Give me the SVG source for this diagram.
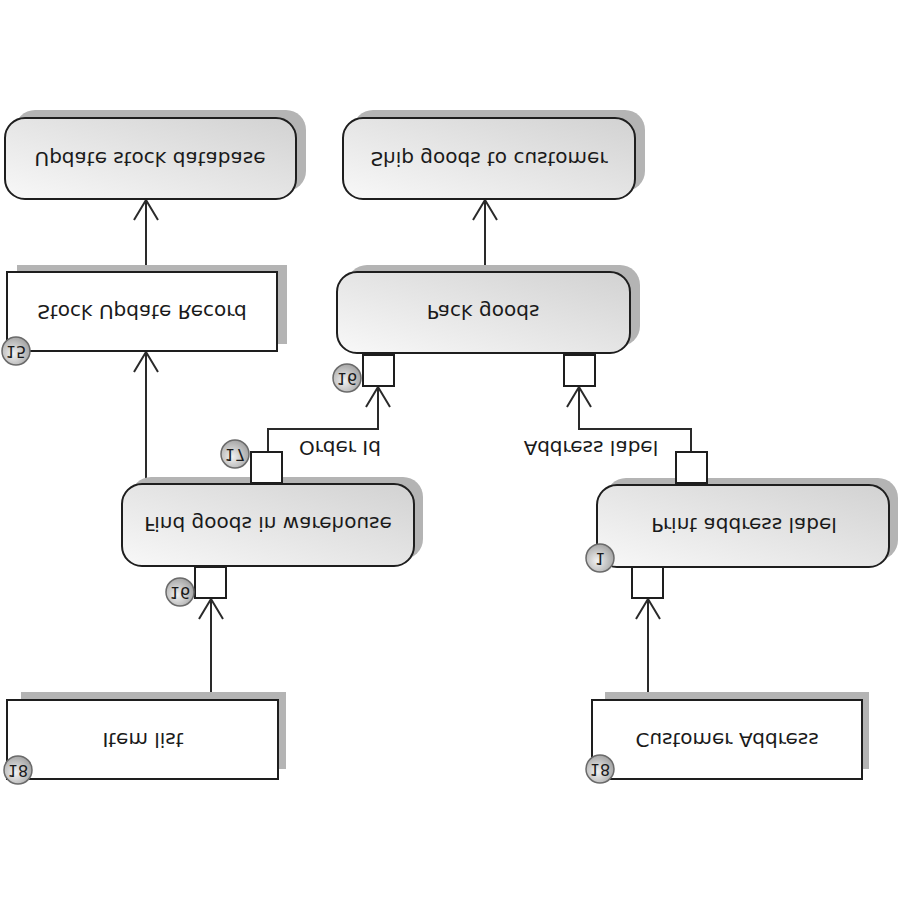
<svg xmlns="http://www.w3.org/2000/svg" width="900" height="900" viewBox="0 0 900 900">
<style>
.shadow{fill:#b4b4b4;stroke:none}
.act{fill:url(#g);stroke:#1e1e1e;stroke-width:2}
.obj{fill:#fff;stroke:#1e1e1e;stroke-width:2}
.port{fill:#fff;stroke:#1e1e1e;stroke-width:2}
.badge{fill:url(#rg);stroke:#6a6a6a;stroke-width:1.5}
.lbl{font-family:"DejaVu Sans",Verdana,sans-serif;font-size:20px;fill:#1a1a1a;text-anchor:middle;dominant-baseline:central}
.num{font-family:"DejaVu Sans",Verdana,sans-serif;font-size:16px;fill:#1a1a1a;text-anchor:middle;dominant-baseline:central}
.conn{fill:none;stroke:#2a2a2a;stroke-width:2}
</style>
<defs>
<linearGradient id="g" x1="1" y1="0" x2="0" y2="1">
<stop offset="0" stop-color="#d2d2d2"/>
<stop offset="1" stop-color="#f8f8f8"/>
</linearGradient>
<radialGradient id="rg" cx="0.4" cy="0.6" r="0.7">
<stop offset="0" stop-color="#f2f2f2"/>
<stop offset="1" stop-color="#9a9a9a"/>
</radialGradient>
<marker id="arr" viewBox="0 0 22 26" refX="21" refY="13" markerWidth="22" markerHeight="26" markerUnits="userSpaceOnUse" orient="auto">
<path d="M1,1 L21,13 L1,25" fill="none" stroke="#2a2a2a" stroke-width="2"/>
</marker>
</defs>

<g id="connectors">
<path class="conn" d="M146,272 L146,200" marker-end="url(#arr)"/>
<path class="conn" d="M146,483 L146,352" marker-end="url(#arr)"/>
<path class="conn" d="M485,272 L485,200" marker-end="url(#arr)"/>
<path class="conn" d="M268,452 L268,429 L378,429 L378,387" marker-end="url(#arr)"/>
<path class="conn" d="M691,452 L691,429 L579,429 L579,387" marker-end="url(#arr)"/>
<path class="conn" d="M211,700 L211,599" marker-end="url(#arr)"/>
<path class="conn" d="M648,700 L648,599" marker-end="url(#arr)"/>
<text class="lbl" transform="translate(340,448) scale(1,-1)">Order Id</text>
<text class="lbl" transform="translate(591,448) scale(1,-1)">Address label</text>
</g>

<g id="update-stock-database">
<rect class="shadow" x="15" y="110" width="291" height="81" rx="20"/>
<rect class="act" x="5" y="118" width="291" height="81" rx="20"/>
<text class="lbl" transform="translate(150,159) scale(1,-1)">Update stock database</text>
</g>

<g id="stock-update-record">
<rect class="shadow" x="17" y="265" width="270" height="79"/>
<rect class="obj" x="7" y="272" width="270" height="79"/>
<text class="lbl" transform="translate(142,312) scale(1,-1)">Stock Update Record</text>
<circle class="badge" cx="16" cy="351" r="14"/>
<text class="num" transform="translate(16,351) scale(1,-1)">15</text>
</g>

<g id="ship-goods">
<rect class="shadow" x="353" y="110" width="292" height="81" rx="20"/>
<rect class="act" x="343" y="118" width="292" height="81" rx="20"/>
<text class="lbl" transform="translate(489,159) scale(1,-1)">Ship goods to customer</text>
</g>

<g id="pack-goods">
<rect class="shadow" x="347" y="265" width="293" height="81" rx="20"/>
<rect class="act" x="337" y="272" width="293" height="81" rx="20"/>
<text class="lbl" transform="translate(483,312) scale(1,-1)">Pack goods</text>
<rect class="port" x="363" y="355" width="31" height="31"/>
<rect class="port" x="564" y="355" width="31" height="31"/>
<circle class="badge" cx="347" cy="378" r="14"/>
<text class="num" transform="translate(347,378) scale(1,-1)">16</text>
</g>

<g id="find-goods">
<rect class="shadow" x="131" y="477" width="292" height="82" rx="20"/>
<rect class="act" x="122" y="484" width="292" height="82" rx="20"/>
<text class="lbl" transform="translate(268,524) scale(1,-1)">Find goods in warehouse</text>
<rect class="port" x="251" y="452" width="31" height="31"/>
<circle class="badge" cx="235" cy="454" r="14"/>
<text class="num" transform="translate(235,454) scale(1,-1)">17</text>
<rect class="port" x="195" y="567" width="31" height="31"/>
<circle class="badge" cx="180" cy="592" r="14"/>
<text class="num" transform="translate(180,592) scale(1,-1)">16</text>
</g>

<g id="print-address-label">
<rect class="shadow" x="606" y="478" width="292" height="82" rx="20"/>
<rect class="act" x="597" y="485" width="292" height="82" rx="20"/>
<text class="lbl" transform="translate(744,525) scale(1,-1)">Print address label</text>
<rect class="port" x="676" y="452" width="31" height="31"/>
<rect class="port" x="632" y="567" width="31" height="31"/>
<circle class="badge" cx="600" cy="558" r="14"/>
<text class="num" transform="translate(600,558) scale(1,-1)">1</text>
</g>

<g id="item-list">
<rect class="shadow" x="21" y="692" width="265" height="77"/>
<rect class="obj" x="7" y="700" width="271" height="79"/>
<text class="lbl" transform="translate(143,740) scale(1,-1)">Item list</text>
<circle class="badge" cx="18" cy="770" r="14"/>
<text class="num" transform="translate(18,770) scale(1,-1)">18</text>
</g>

<g id="customer-address">
<rect class="shadow" x="605" y="692" width="264" height="77"/>
<rect class="obj" x="592" y="700" width="270" height="79"/>
<text class="lbl" transform="translate(727,740) scale(1,-1)">Customer Address</text>
<circle class="badge" cx="600" cy="769" r="14"/>
<text class="num" transform="translate(600,769) scale(1,-1)">18</text>
</g>
</svg>
